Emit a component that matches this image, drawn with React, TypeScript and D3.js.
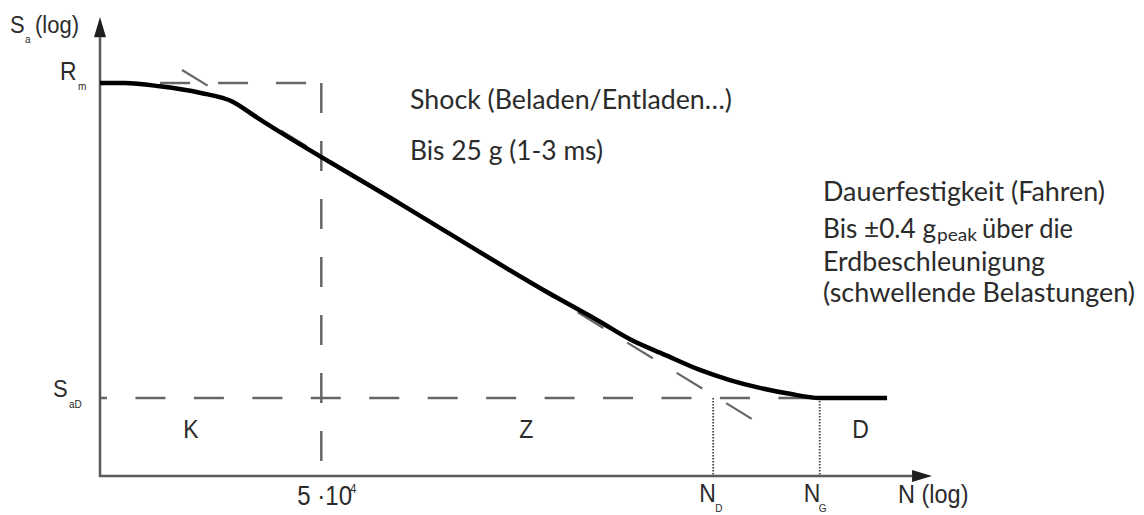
import React from "react";
import * as d3 from "d3";

// Wöhler (S-N) diagram, both axes logarithmic, drawn in normalised axis units 0..100
const CURVE_N = [0, 3.0, 7.2, 12.0, 16.0, 18.6, 36.1, 54.1, 60.1, 63.7, 67.9, 72.1, 75.7, 79.3, 82.9, 86.5, 94.6];
const CURVE_S = [85.6, 85.6, 84.9, 83.5, 81.5, 78.4, 59.3, 39.7, 33.6, 29.8, 26.4, 23.1, 20.9, 19.2, 17.9, 17.0, 17.0];

// Asymptote of the finite-life range (dashed)
const ASYM_N = [9.86, 78.7];
const ASYM_S = [88.45, 12.05];

// Characteristic levels
const R_M = 85.6;
const S_AD = 17.0;
const N_KNEE = 26.6; // 5·10^4
const N_D = 73.7;
const N_G = 86.5;

// Region labels
const REGIONS = ["K", "Z", "D"];
const REGION_N = [10.0, 50.4, 90.4];

const W = 1144;
const H = 515;

const x = d3.scaleLinear().domain([0, 100]).range([100, 932]);
const y = d3.scaleLinear().domain([0, 100]).range([476, 17]);

const LABEL_FONT = "'Liberation Sans', Arial, sans-serif";
const NOTE_FONT = "Lato, 'Open Sans', sans-serif";
const INK = "#2b2b2b";
const DASH_COL = "#666";
const AXIS_COL = "#5a5a5a";

// Text with the tall proportions of the original lettering
function T({ px, py, size, children, font = LABEL_FONT, fill = INK, len, sy = 1.12 }: any) {
  return (
    <g transform={`translate(${px},${py}) scale(1,${sy})`}>
      <text
        x={0}
        y={0}
        fontFamily={font}
        fontSize={size}
        fill={fill}
        {...(len ? { textLength: len, lengthAdjust: "spacingAndGlyphs" } : {})}
      >
        {children}
      </text>
    </g>
  );
}

export default function App() {
  const curvePts = CURVE_N.map((n, i) => [n, CURVE_S[i]] as [number, number]);
  const curve = d3
    .line<[number, number]>()
    .x((d) => x(d[0]))
    .y((d) => y(d[1]))
    .curve(d3.curveMonotoneX)(curvePts) as string;

  const asym = d3
    .line<[number, number]>()
    .x((d) => x(d[0]))
    .y((d) => y(d[1]))(ASYM_N.map((n, i) => [n, ASYM_S[i]] as [number, number])) as string;

  const x0 = x(0);
  const yBase = y(0);

  return (
    <svg
      width={W}
      height={H}
      viewBox={`0 0 ${W} ${H}`}
      style={{ position: "absolute", left: 0, top: 0, background: "#fff" }}
    >
      {/* dashed reference lines */}
      <line x1={x(0.25)} x2={x(N_KNEE)} y1={y(R_M)} y2={y(R_M)} stroke={DASH_COL} strokeWidth={2.5} strokeDasharray="30 28" />
      <line x1={x0} x2={x(N_G)} y1={y(S_AD)} y2={y(S_AD)} stroke={DASH_COL} strokeWidth={2.5} strokeDasharray="30 28.45" strokeDashoffset={23} />
      <line x1={x(N_KNEE)} x2={x(N_KNEE)} y1={y(R_M)} y2={y(3.1)} stroke={DASH_COL} strokeWidth={2.5} strokeDasharray="30 28" />
      <path d={asym} fill="none" stroke={DASH_COL} strokeWidth={2.2} strokeDasharray="30 28" />

      {/* dotted drops to N_D and N_G */}
      {[N_D, N_G].map((n) => (
        <line key={n} x1={x(n)} x2={x(n)} y1={y(S_AD)} y2={yBase} stroke="#444" strokeWidth={1.8} strokeDasharray="1.5 1.5" />
      ))}

      {/* axes */}
      <line x1={x0} x2={x0} y1={yBase + 1} y2={y(95.6)} stroke={AXIS_COL} strokeWidth={2.5} />
      <line x1={x0 - 1} x2={x(97.6)} y1={yBase} y2={yBase} stroke={AXIS_COL} strokeWidth={2.5} />
      <path d={`M${x0},${y(100)} L${x0 - 6},${y(95.6)} L${x0 + 6},${y(95.6)} Z`} fill="#1e1e1e" />
      <path d={`M${x(100)},${yBase} L${x(97.6)},${yBase - 6} L${x(97.6)},${yBase + 6} Z`} fill="#1e1e1e" />

      {/* S-N curve */}
      <path d={curve} fill="none" stroke="#000" strokeWidth={4.5} strokeLinejoin="round" />

      {/* axis titles */}
      <T px={10} py={33} size={22}>S</T>
      <T px={25} py={43} size={10}>a</T>
      <T px={35} py={33} size={22}>(log)</T>

      <T px={898} py={503} size={23.5}>N (log)</T>

      {/* level labels */}
      <T px={60} py={y(R_M) - 3} size={23}>R</T>
      <T px={78} py={y(R_M) + 7} size={10}>m</T>
      <T px={53} py={y(S_AD) - 1} size={22}>S</T>
      <T px={69} py={y(S_AD) + 10} size={10}>aD</T>

      {/* cycle labels */}
      <T px={x(N_KNEE) - 24} py={505} size={24}>5 ·10</T>
      <T px={x(N_KNEE) + 29} py={493} size={11}>4</T>
      <T px={x(N_D) - 14} py={502} size={23}>N</T>
      <T px={x(N_D) + 2} py={512} size={10}>D</T>
      <T px={x(N_G) - 16} py={502} size={23}>N</T>
      <T px={x(N_G) - 1} py={512} size={10}>G</T>

      {/* regions */}
      {REGIONS.map((r, i) => (
        <T key={r} px={x(REGION_N[i])} py={438} size={23}>{r}</T>
      ))}

      {/* annotations */}
      <T px={410} py={109} size={24} font={NOTE_FONT} len={322}>Shock (Beladen/Entladen…)</T>
      <T px={410} py={160} size={24} font={NOTE_FONT} len={193}>Bis 25 g (1-3 ms)</T>
      <T px={823} py={201} size={24} font={NOTE_FONT} len={282}>Dauerfestigkeit (Fahren)</T>
      <T px={823} py={238} size={24} font={NOTE_FONT} len={113}>Bis ±0.4 g</T>
      <T px={937} py={241} size={15} font={NOTE_FONT} len={40}>peak</T>
      <T px={982} py={238} size={24} font={NOTE_FONT} len={91}>über die</T>
      <T px={823} py={271} size={24} font={NOTE_FONT} len={222}>Erdbeschleunigung</T>
      <T px={823} py={302} size={24} font={NOTE_FONT} len={312}>(schwellende Belastungen)</T>
    </svg>
  );
}
